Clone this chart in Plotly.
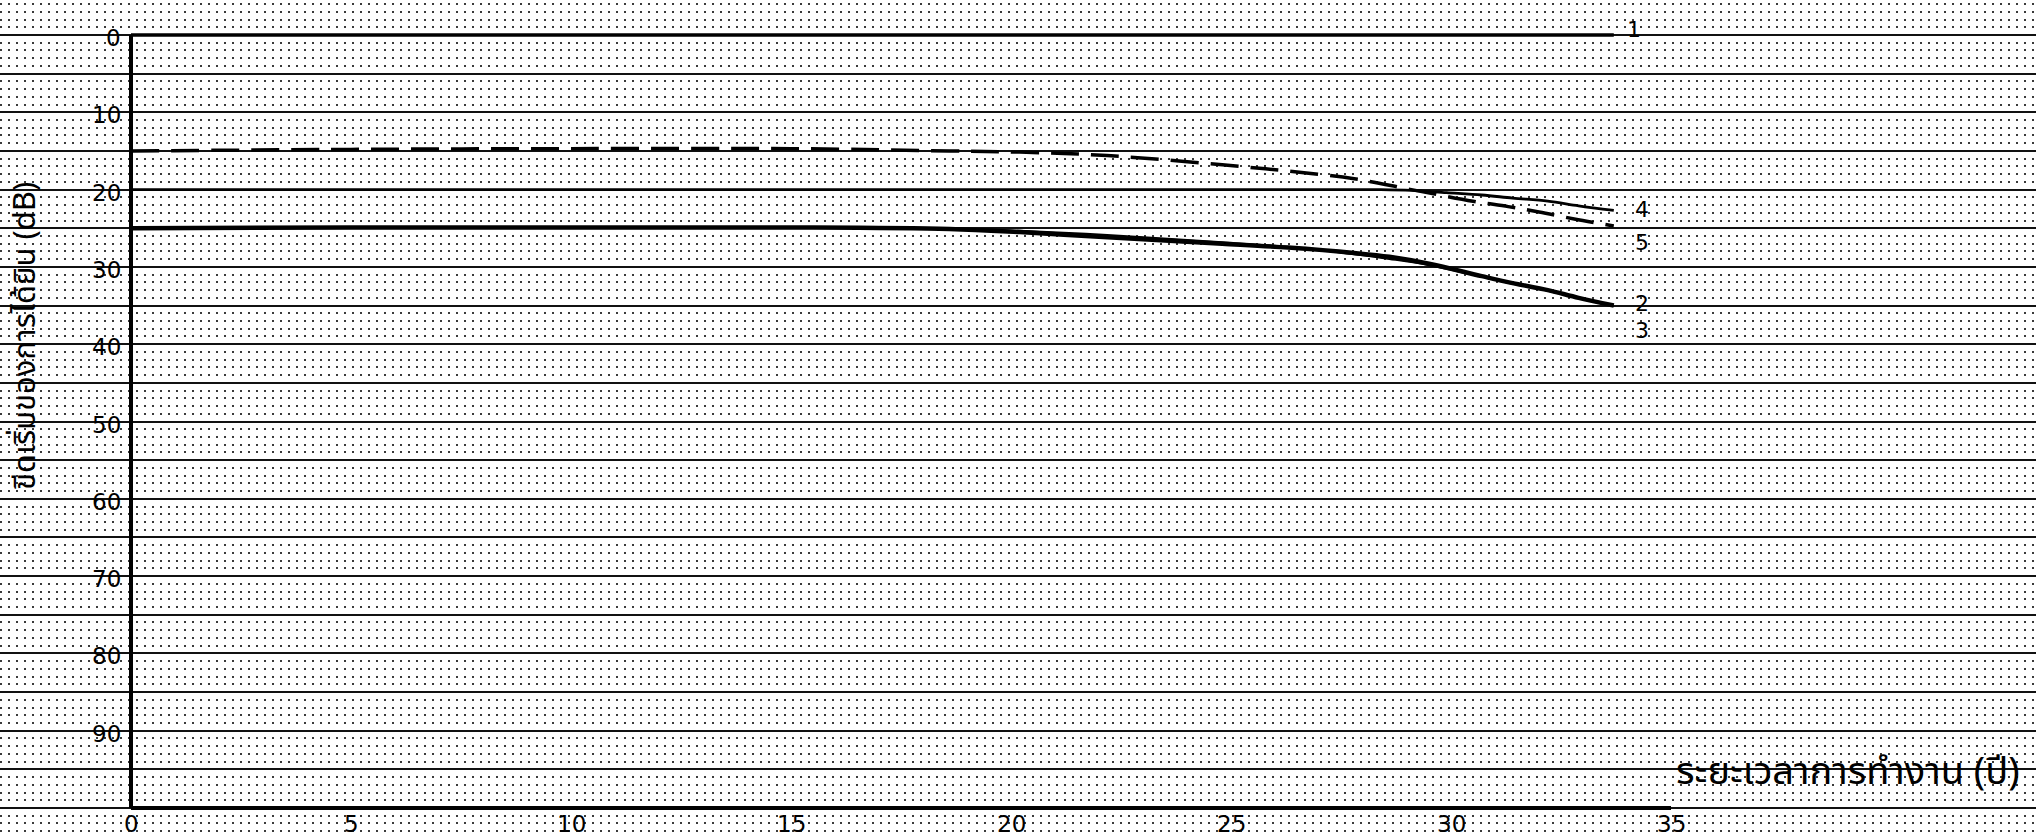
import plotly.graph_objects as go

# ---------------- data ----------------
X_TICKS = [0, 5, 10, 15, 20, 25, 30, 35]
X_TICK_LABELS = ["0", "5", "10", "15", "20", "25", "30", "35"]
Y_TICKS = [0, 10, 20, 30, 40, 50, 60, 70, 80, 90]
Y_TICK_LABELS = ["0", "10", "20", "30", "40", "50", "60", "70", "80", "90"]
Y_AXIS_MAX = 100

X_TITLE = "ระยะเวลาการทำงาน (ปี)"
Y_TITLE = "ขีดเริ่มของการได้ยิน (dB)"

SERIES_LABELS = ["1", "2", "3", "4", "5"]

YEARS_1 = [0, 33.7]
DB_1 = [0, 0]

YEARS_2 = [0, 5, 10, 15, 18.6, 20.2, 21.7, 23.2, 24.8, 26.3, 27.8, 28.6, 29.5, 30.7, 31.4, 32.2, 32.9, 33.7]
DB_2 = [25.0, 24.9, 24.9, 24.9, 25.1, 25.5, 26.0, 26.5, 27.0, 27.5, 28.2, 28.7, 29.6, 31.2, 32.1, 33.0, 34.0, 35.0]

YEARS_3 = [0, 5, 10, 15, 18.6, 20.2, 21.7, 23.2, 24.8, 26.3, 27.8, 28.6, 29.5, 30.7, 31.4, 32.2, 32.9, 33.7]
DB_3 = [25.0, 24.9, 24.9, 24.9, 25.0, 25.3, 25.7, 26.2, 26.8, 27.4, 28.4, 29.0, 29.8, 31.3, 32.2, 33.1, 34.1, 35.1]

YEARS_4 = [0, 5, 10, 15, 20, 25, 28.4, 29.1, 29.9, 30.7, 31.4, 32.2, 32.9, 33.7]
DB_4 = [20.0, 20.0, 20.0, 20.0, 20.0, 20.0, 20.0, 20.1, 20.4, 20.7, 21.1, 21.5, 22.1, 22.7]

YEARS_5 = [0, 5, 10, 15, 18.6, 20.2, 21.7, 23.2, 24.8, 26.3, 27.8, 29.1, 30.5, 31.3, 32.0, 32.8, 33.7]
DB_5 = [15.0, 14.8, 14.7, 14.7, 15.0, 15.15, 15.45, 16.0, 16.8, 17.6, 18.6, 20.0, 21.5, 22.2, 22.9, 23.8, 24.7]

# ---------------- figure ----------------
W, H = 2036, 839
NUM_FONT = "DejaVu Sans, Liberation Sans, sans-serif"
THAI_FONT = "Noto Sans Thai, Noto Sans Thai UI, Loma, Garuda, Tlwg Typist, Norasi, DejaVu Sans, sans-serif"

fig = go.Figure()

# axis frame (left axis and bottom axis) built from the tick data
fig.add_trace(go.Scatter(x=[X_TICKS[0], X_TICKS[0]], y=[Y_TICKS[0], Y_AXIS_MAX],
                         mode="lines", line=dict(color="black", width=4),
                         hoverinfo="skip"))
fig.add_trace(go.Scatter(x=[X_TICKS[0], X_TICKS[-1]], y=[Y_AXIS_MAX, Y_AXIS_MAX],
                         mode="lines", line=dict(color="black", width=4),
                         hoverinfo="skip"))

series = [
    (YEARS_1, DB_1, dict(color="black", width=3.5), "linear"),
    (YEARS_2, DB_2, dict(color="black", width=4.5), "spline"),
    (YEARS_3, DB_3, dict(color="black", width=1.6), "spline"),
    (YEARS_4, DB_4, dict(color="black", width=2.8), "spline"),
    (YEARS_5, DB_5, dict(color="black", width=3.5, dash="28px,12px"), "spline"),
]
for xs, ys, ln, shape in series:
    ln = dict(ln)
    ln["shape"] = shape
    fig.add_trace(go.Scatter(x=xs, y=ys, mode="lines", line=ln, hoverinfo="skip"))

annotations = []
# y tick labels
for v, t in zip(Y_TICKS, Y_TICK_LABELS):
    annotations.append(dict(x=0, y=v, xref="x", yref="y", text=t, showarrow=False,
                            xanchor="right", yanchor="middle", xshift=-8, yshift=-3,
                            font=dict(family=NUM_FONT, size=23, color="black")))
# x tick labels
for v, t in zip(X_TICKS, X_TICK_LABELS):
    annotations.append(dict(x=v, y=Y_AXIS_MAX, xref="x", yref="y", text=t, showarrow=False,
                            xanchor="center", yanchor="middle", yshift=-16,
                            font=dict(family=NUM_FONT, size=23, color="black")))
# series end labels
label_shift = {"1": (20, 6), "2": (28, 2), "3": (28, -24), "4": (28, 1), "5": (28, -17)}
for (xs, ys, _, _), lab in zip(series, SERIES_LABELS):
    dx, dy = label_shift[lab]
    annotations.append(dict(x=xs[-1], y=ys[-1], xref="x", yref="y", text=lab, showarrow=False,
                            xanchor="center", yanchor="middle", xshift=dx, yshift=dy,
                            font=dict(family=NUM_FONT, size=22, color="black")))
# axis titles
annotations.append(dict(x=0.993, y=1 - 772 / H, xref="paper", yref="paper", text=X_TITLE,
                        showarrow=False, xanchor="right", yanchor="middle",
                        font=dict(family=THAI_FONT, size=38, color="black")))
annotations.append(dict(x=25 / W, y=1 - 336 / H, xref="paper", yref="paper", text=Y_TITLE,
                        showarrow=False, xanchor="center", yanchor="middle", textangle=-90,
                        font=dict(family=THAI_FONT, size=31, color="black")))

px_per_year = 44.0
x0_px = 131
px_per_db = 7.73
y0_px = 35

fig.update_layout(
    width=W, height=H,
    margin=dict(l=0, r=0, t=0, b=0),
    paper_bgcolor="white", plot_bgcolor="white",
    showlegend=False,
    annotations=annotations,
    xaxis=dict(range=[-x0_px / px_per_year, (W - x0_px) / px_per_year],
               showgrid=False, zeroline=False, showticklabels=False, ticks="",
               showline=False, fixedrange=True),
    yaxis=dict(range=[(H - y0_px) / px_per_db, -y0_px / px_per_db],
               tick0=0, dtick=5, showgrid=True, gridcolor="#111111", gridwidth=2.2,
               zeroline=False, showticklabels=False, ticks="", showline=False,
               minor=dict(tick0=0, dtick=1, showgrid=True, gridcolor="#3a3a3a",
                          gridwidth=1.6, griddash="1.6px,6.4px", ticks=""),
               fixedrange=True),
)

fig.write_html("out.html", config={"displayModeBar": False},
               post_script="document.body.style.margin='0';document.body.style.overflow='hidden';")
